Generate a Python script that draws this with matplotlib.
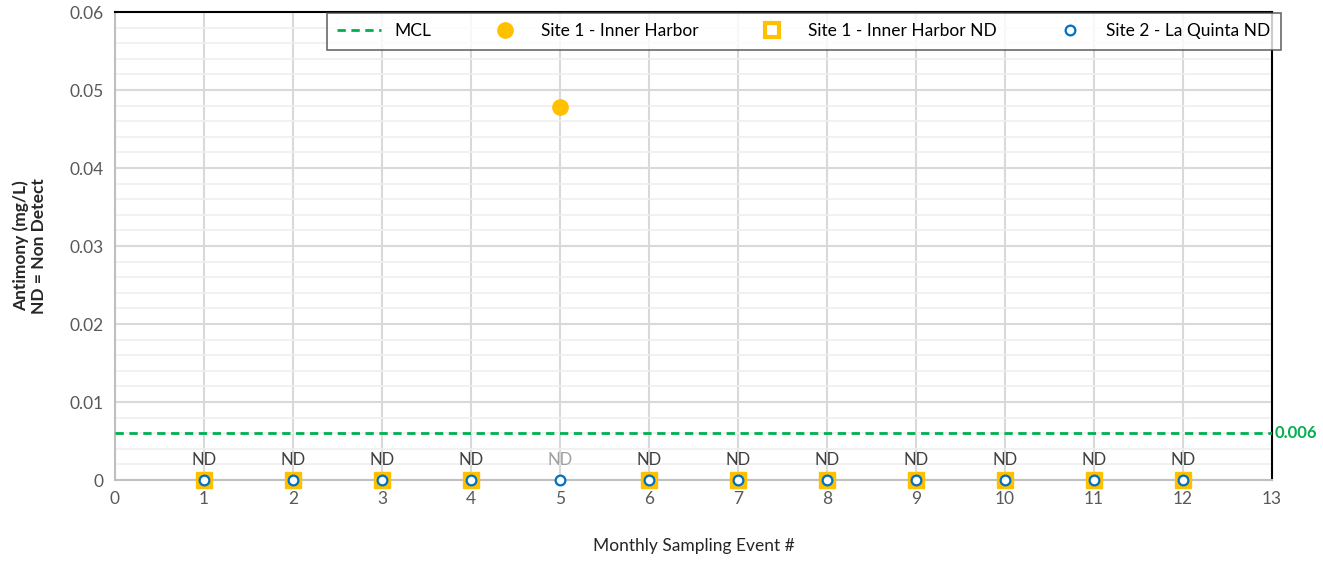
import matplotlib.pyplot as plt
import numpy as np
from matplotlib.ticker import MultipleLocator

plt.rcParams['font.family'] = ['Lato', 'DejaVu Sans']

# данные
events = [1, 2, 3, 4, 5, 6, 7, 8, 9, 10, 11, 12]
site1_events = [5]
site1_values = [0.0478]
site1_nd_events = [1, 2, 3, 4, 6, 7, 8, 9, 10, 11, 12]
site1_nd_values = [0, 0, 0, 0, 0, 0, 0, 0, 0, 0, 0]
site2_nd_events = [1, 2, 3, 4, 5, 6, 7, 8, 9, 10, 11, 12]
site2_nd_values = [0, 0, 0, 0, 0, 0, 0, 0, 0, 0, 0, 0]
mcl = 0.006

fig = plt.figure(figsize=(13.23, 5.62), dpi=100)
ax = fig.add_axes([0.0869, 0.1459, 0.9615 - 0.0869, 0.9786 - 0.1459])

grey = '#595959'
ax.axhline(mcl, color='#00B050', linestyle=(0, (3, 2)), linewidth=2, zorder=3)
ax.plot(site1_events, site1_values, 'o', color='#FFC000', markersize=11, zorder=4)
ax.plot(site1_nd_events, site1_nd_values, 's', markerfacecolor='#FFC000',
        markeredgecolor='#FFC000', markersize=11, linestyle='none', zorder=4, clip_on=False)
ax.plot(site2_nd_events, site2_nd_values, 'o', markerfacecolor='white',
        markeredgecolor='#0070C0', markeredgewidth=1.6, markersize=7, linestyle='none',
        zorder=5, clip_on=False)

# легенда: отдельные маркеры
h_mcl, = ax.plot([], [], color='#00B050', linestyle=(0, (3, 2)), linewidth=2)
h_s1, = ax.plot([], [], 'o', color='#FFC000', markersize=11)
h_s1nd, = ax.plot([], [], 's', markerfacecolor='white', markeredgecolor='#FFC000',
                  markeredgewidth=3, markersize=10, linestyle='none')
h_s2, = ax.plot([], [], 'o', markerfacecolor='white', markeredgecolor='#0070C0',
                markeredgewidth=1.6, markersize=7, linestyle='none')
leg = fig.legend([h_mcl, h_s1, h_s1nd, h_s2],
                 ['MCL', 'Site 1 - Inner Harbor', 'Site 1 - Inner Harbor ND', 'Site 2 - La Quinta ND'],
                 loc='upper left', bbox_to_anchor=(327 / 1323, 1 - 13 / 562), ncol=4,
                 fontsize=12.5, frameon=True, fancybox=False, edgecolor='#444444',
                 handlelength=2.5, columnspacing=3.0, borderpad=0.6, borderaxespad=0)
leg.get_frame().set_linewidth(1.2)

for e in events:
    c = '#A0A0A0' if e in site1_events else '#404040'
    ax.text(e, 0.0015, 'ND', ha='center', va='bottom', fontsize=12, color=c)

ax.text(13.03, mcl, '0.006', color='#00B050', fontsize=12, fontweight='bold',
        va='center', ha='left', clip_on=False)

ax.set_xlim(0, 13)
ax.set_ylim(0, 0.06)
ax.xaxis.set_major_locator(MultipleLocator(1))
ax.yaxis.set_minor_locator(MultipleLocator(0.002))
ax.set_yticks(np.arange(0, 0.061, 0.01))
ax.set_yticklabels(['0', '0.01', '0.02', '0.03', '0.04', '0.05', '0.06'])
ax.grid(which='major', color='#D9D9D9', linewidth=1.5)
ax.grid(which='minor', axis='y', color='#EFEFEF', linewidth=1.2)
ax.set_axisbelow(True)
ax.tick_params(which='both', length=0, labelsize=12.5, labelcolor=grey, pad=8)

for s in ['left', 'bottom']:
    ax.spines[s].set_color('#BFBFBF')
    ax.spines[s].set_linewidth(1.5)
for s in ['top', 'right']:
    ax.spines[s].set_color('black')
    ax.spines[s].set_linewidth(1.5)

ax.set_xlabel('Monthly Sampling Event #', fontsize=12.5, color='#262626', labelpad=22)
ax.set_ylabel('Antimony (mg/L)\nND = Non Detect', fontsize=12.5, color='#262626',
              fontweight='bold', labelpad=16)

fig.savefig('out.png', dpi=100)
